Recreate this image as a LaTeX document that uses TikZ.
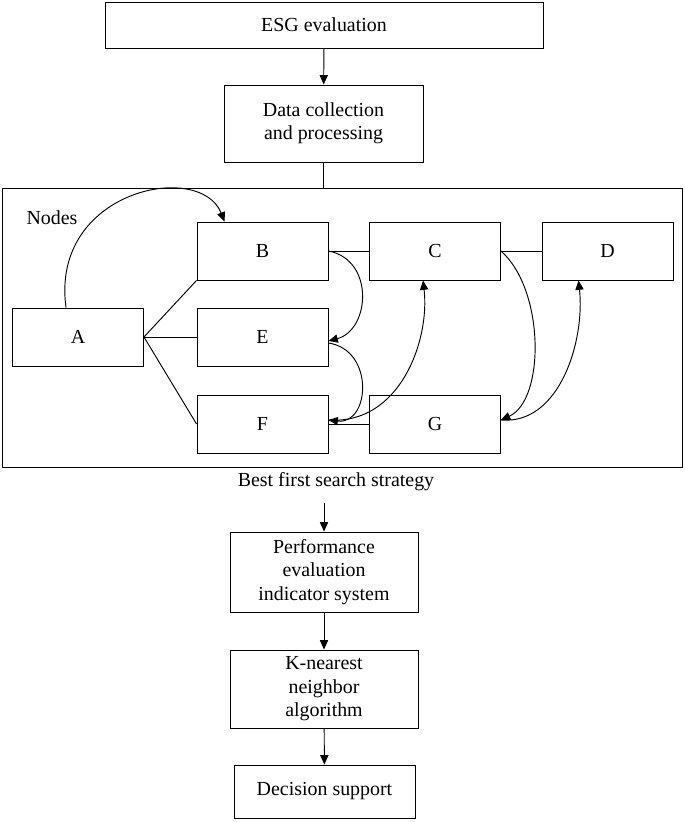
\documentclass[tikz,border=0pt]{standalone}
\usepackage{fontspec}
\setmainfont{Liberation Serif}
\usetikzlibrary{arrows.meta}
\begin{document}
\begin{tikzpicture}[x=0.03cm, y=-0.03cm, >={Triangle[length=8pt,width=7pt]},
    every node/.style={font=\fontsize{17}{20}\selectfont},
    box/.style={draw, thick, rectangle, inner sep=0pt, align=center}]
  \useasboundingbox (0,0) rectangle (685,822);
  \node [box, minimum width=438*0.03cm, minimum height=46*0.03cm] (esg) at (324, 25) {ESG evaluation};
  \node [box, minimum width=199*0.03cm, minimum height=77*0.03cm] (data) at (323.5, 123.5) {Data collection\\and processing};
  \node [draw, thick, minimum width=680*0.03cm, minimum height=279*0.03cm, inner sep=0pt] (frame) at (342, 327.5) {};
  \node (lbl) at (52, 218) {Nodes};
  \node [box, minimum width=131*0.03cm, minimum height=58*0.03cm] (B) at (262.5, 251) {B};
  \node [box, minimum width=131*0.03cm, minimum height=58*0.03cm] (C) at (435, 251) {C};
  \node [box, minimum width=131*0.03cm, minimum height=58*0.03cm] (D) at (607.5, 251) {D};
  \node [box, minimum width=131*0.03cm, minimum height=58*0.03cm] (A) at (78, 337) {A};
  \node [box, minimum width=131*0.03cm, minimum height=58*0.03cm] (E) at (262.5, 337) {E};
  \node [box, minimum width=131*0.03cm, minimum height=58*0.03cm] (F) at (262.5, 424) {F};
  \node [box, minimum width=131*0.03cm, minimum height=58*0.03cm] (G) at (435, 424) {G};
  \node (bfs) at (336, 482) {Best first search strategy};
  \node [box, minimum width=188*0.03cm, minimum height=80*0.03cm] (perf) at (324, 572) {Performance\\evaluation\\indicator system};
  \node [box, minimum width=188*0.03cm, minimum height=78*0.03cm] (knn) at (324, 689) {K-nearest\\neighbor\\algorithm};
  \node [box, minimum width=181*0.03cm, minimum height=53*0.03cm] (dec) at (324.5, 791.5) {Decision support};

  \draw [thick, ->] (esg) -- (data);
  \draw [thick] (data.south) -- (data.south |- frame.north);
  \draw [thick, ->] (bfs.south -| perf.north) ++(0,8) -- (perf.north);
  \draw [thick, ->] (perf) -- (knn);
  \draw [thick, ->] (knn) -- (dec);

  \draw [thick, ->] (A.north) ++(-12,0) .. controls (50,190) and (200,160) .. ([xshift=28*0.03cm]B.north west);
  \draw [thick] (A.east) -- (B.south west);
  \draw [thick] (A.east) -- (E.west);
  \draw [thick] (A.east) -- (F.west);
  \draw [thick] (B.east) -- (C.west);
  \draw [thick] (C.east) -- (D.west);
  \draw [thick] (F.east) -- (G.west);
  \draw [thick, ->] (B.east) .. controls (375,260) and (370,330) .. ([yshift=-4*0.03cm]E.east);
  \draw [thick, ->] ([yshift=-6*0.03cm]E.east) .. controls (375,350) and (370,425) .. ([yshift=4*0.03cm]F.east);
  \draw [thick, ->] ([yshift=4*0.03cm]F.east) .. controls (400,425) and (430,340) .. ([xshift=-12*0.03cm]C.south);
  \draw [thick, ->] (C.east) .. controls (545,290) and (545,400) .. ([yshift=4*0.03cm]G.east);
  \draw [thick, ->] ([yshift=4*0.03cm]G.east) .. controls (560,425) and (585,340) .. ([xshift=-29*0.03cm]D.south);
\end{tikzpicture}
\end{document}
